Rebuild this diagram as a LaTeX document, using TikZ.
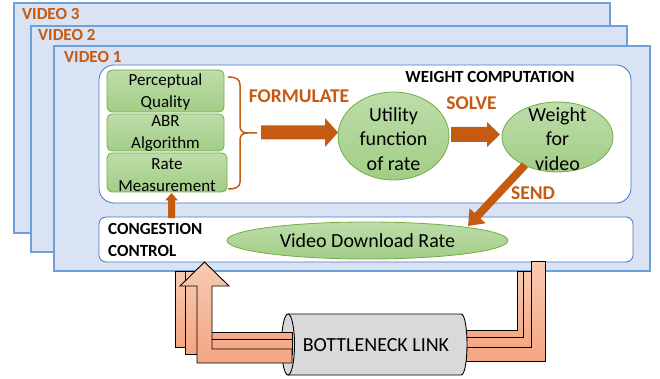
\documentclass[tikz,border=0pt]{standalone}
\usepackage{fontspec}
\setmainfont{Carlito}
\usetikzlibrary{shapes.geometric,arrows.meta}
\definecolor{vfill}{RGB}{218,227,243}
\definecolor{vline}{RGB}{110,160,218}
\definecolor{bline}{RGB}{68,114,196}
\definecolor{gline}{RGB}{112,173,71}
\definecolor{gtop}{RGB}{190,221,170}
\definecolor{gbot}{RGB}{162,205,134}
\definecolor{ora}{RGB}{197,90,17}
\definecolor{ptop}{RGB}{248,202,178}
\definecolor{pbot}{RGB}{244,166,130}
\definecolor{cyl}{RGB}{217,217,217}
\tikzset{
 videobox/.style={fill=vfill, draw=vline, line width=1.1pt},
 vlabel/.style={anchor=west, text=ora, font=\fontsize{17}{20}\selectfont\bfseries, inner sep=0},
 panel/.style={fill=white, draw=bline, line width=0.8pt},
 greenbox/.style={rectangle, top color=gtop, bottom color=gbot, draw=gline, line width=0.8pt, rounded corners=5pt, inner sep=0},
 gtext/.style={align=center, font=\fontsize{17}{22}\selectfont, inner sep=0},
 gellipse/.style={ellipse, top color=gtop, bottom color=gbot, draw=gline, line width=0.8pt, inner sep=0},
 etext/.style={align=center, font=\fontsize{20}{24.5}\selectfont, inner sep=0},
 olabel/.style={text=ora, font=\fontsize{19.5}{20}\selectfont\bfseries, inner sep=0},
 blabel/.style={font=\fontsize{17}{22}\selectfont\bfseries, inner sep=0},
 pipe/.style={top color=ptop, bottom color=pbot, draw=black, line width=0.9pt},
 blockarrow/.style={fill=ora},
 bracepath/.style={draw=ora, line width=1.5pt},
}
\begin{document}
\begin{tikzpicture}[x=1pt,y=-1pt]
\useasboundingbox (0,0) rectangle (660,379);
% video layers
\draw[videobox] (14,3) rectangle (610,233);
\node[vlabel] (v3) at (22,14) {VIDEO 3};
\draw[videobox] (31,26) rectangle (627,252);
\node[vlabel] (v2) at (38,35) {VIDEO 2};
\draw[videobox] (54,46) rectangle (650,271);
\node[vlabel] (v1) at (64,57) {VIDEO 1};
% panels
\draw[panel, rounded corners=15pt] (99,65) rectangle (631,203);
\draw[panel, rounded corners=7pt] (99,217) rectangle (633,262);
% green boxes
\node[greenbox, minimum width=117pt, minimum height=42pt] (pq) at (165.5,91) {};
\node[gtext] (pqt) at (165.5,91.5) {Perceptual\\Quality};
\node[greenbox, minimum width=117pt, minimum height=37pt] (abr) at (165.5,132.5) {};
\node[gtext] (abrt) at (165.5,134) {ABR\\Algorithm};
\node[greenbox, minimum width=120pt, minimum height=39pt] (rm) at (167,172.5) {};
\node[gtext] (rmt) at (167,175) {Rate\\Measurement};
% brace
\draw[bracepath] (228,77) .. controls (236,77) and (240,79) .. (240,85) -- (240,126) .. controls (240,131) and (243,133) .. (248,133) -- (257,133);
\draw[bracepath] (248,133) .. controls (243,133) and (240,135) .. (240,140) -- (240,182) .. controls (240,187) and (236,189) .. (228,189);
\node[olabel] (form) at (299,96.5) {FORMULATE};
% formulate arrow
\fill[blockarrow] (261,125.5) -- (325,125.5) -- (325,118) -- (338,132.5) -- (325,147) -- (325,139.5) -- (261,139.5) -- cycle;
% utility ellipse
\node[gellipse, minimum width=111pt, minimum height=88pt] (util) at (393.5,136) {};
\node[etext] (utilt) at (393.5,139) {Utility\\function\\of rate};
\node[olabel] (solve) at (471.5,103) {SOLVE};
\fill[blockarrow] (451,127) -- (487,127) -- (487,122) -- (500,134.5) -- (487,147) -- (487,142) -- (451,142) -- cycle;
% weight ellipse
\node[gellipse, minimum width=111pt, minimum height=70pt] (wt) at (557.5,137) {};
\node[etext] (wtt) at (557.5,139) {Weight\\for\\video};
\node[blabel] (wc) at (490,77) {WEIGHT COMPUTATION};
% congestion control
\node[blabel, anchor=west] (cc1) at (108,229) {CONGESTION};
\node[blabel, anchor=west] (cc2) at (108,251) {CONTROL};
\node[gellipse, minimum width=281pt, minimum height=37pt] (vdr) at (367.5,240.5) {};
\node[etext] (vdrt) at (367.5,241) {Video Download Rate};
% send arrow
\coordinate (sendS) at (525,165);
\coordinate (sendE) at (468,226);
\draw[ora, line width=8pt, -{Triangle[length=14pt,width=21pt]}] (sendS) -- (sendE);
\node[olabel] (send) at (533,193) {SEND};
% small up arrow
\fill[blockarrow] (168,218) -- (168,200.5) -- (165,200.5) -- (171.5,193) -- (178,200.5) -- (175,200.5) -- (175,218) -- cycle;
% right pipes (behind cylinder)
\draw[pipe] (462,330) -- (517,330) -- (517,271) -- (531,271) -- (531,344) -- (462,344) -- cycle;
\draw[pipe] (462,337) -- (523,337) -- (523,271) -- (537,271) -- (537,351) -- (462,351) -- cycle;
\draw[pipe] (462,347) -- (531,347) -- (531,261) -- (545,261) -- (545,361) -- (462,361) -- cycle;
% cylinder
\draw[fill=cyl, line width=0.9pt] (288,314) -- (461,314) .. controls (469,314) and (469,375) .. (461,375) -- (288,375) -- cycle;
\draw[fill=cyl, line width=0.9pt] (288,344.5) ellipse [x radius=6.5pt, y radius=30.5pt];
\node[font=\fontsize{20}{24}\selectfont, inner sep=0] (bl) at (376,345) {BOTTLENECK LINK};
% left pipes
\draw[pipe] (175,271) -- (175,347) -- (292,347) -- (292,332) -- (190,332) -- (190,271) -- cycle;
\draw[pipe] (185,271) -- (185,354) -- (292,354) -- (292,339) -- (200,339) -- (200,271) -- cycle;
\draw[pipe] (197,286) -- (197,363) -- (292,363) -- (292,349) -- (212,349) -- (212,286) -- (229,286) -- (204.5,262) -- (180,286) -- cycle;
\end{tikzpicture}
\end{document}
